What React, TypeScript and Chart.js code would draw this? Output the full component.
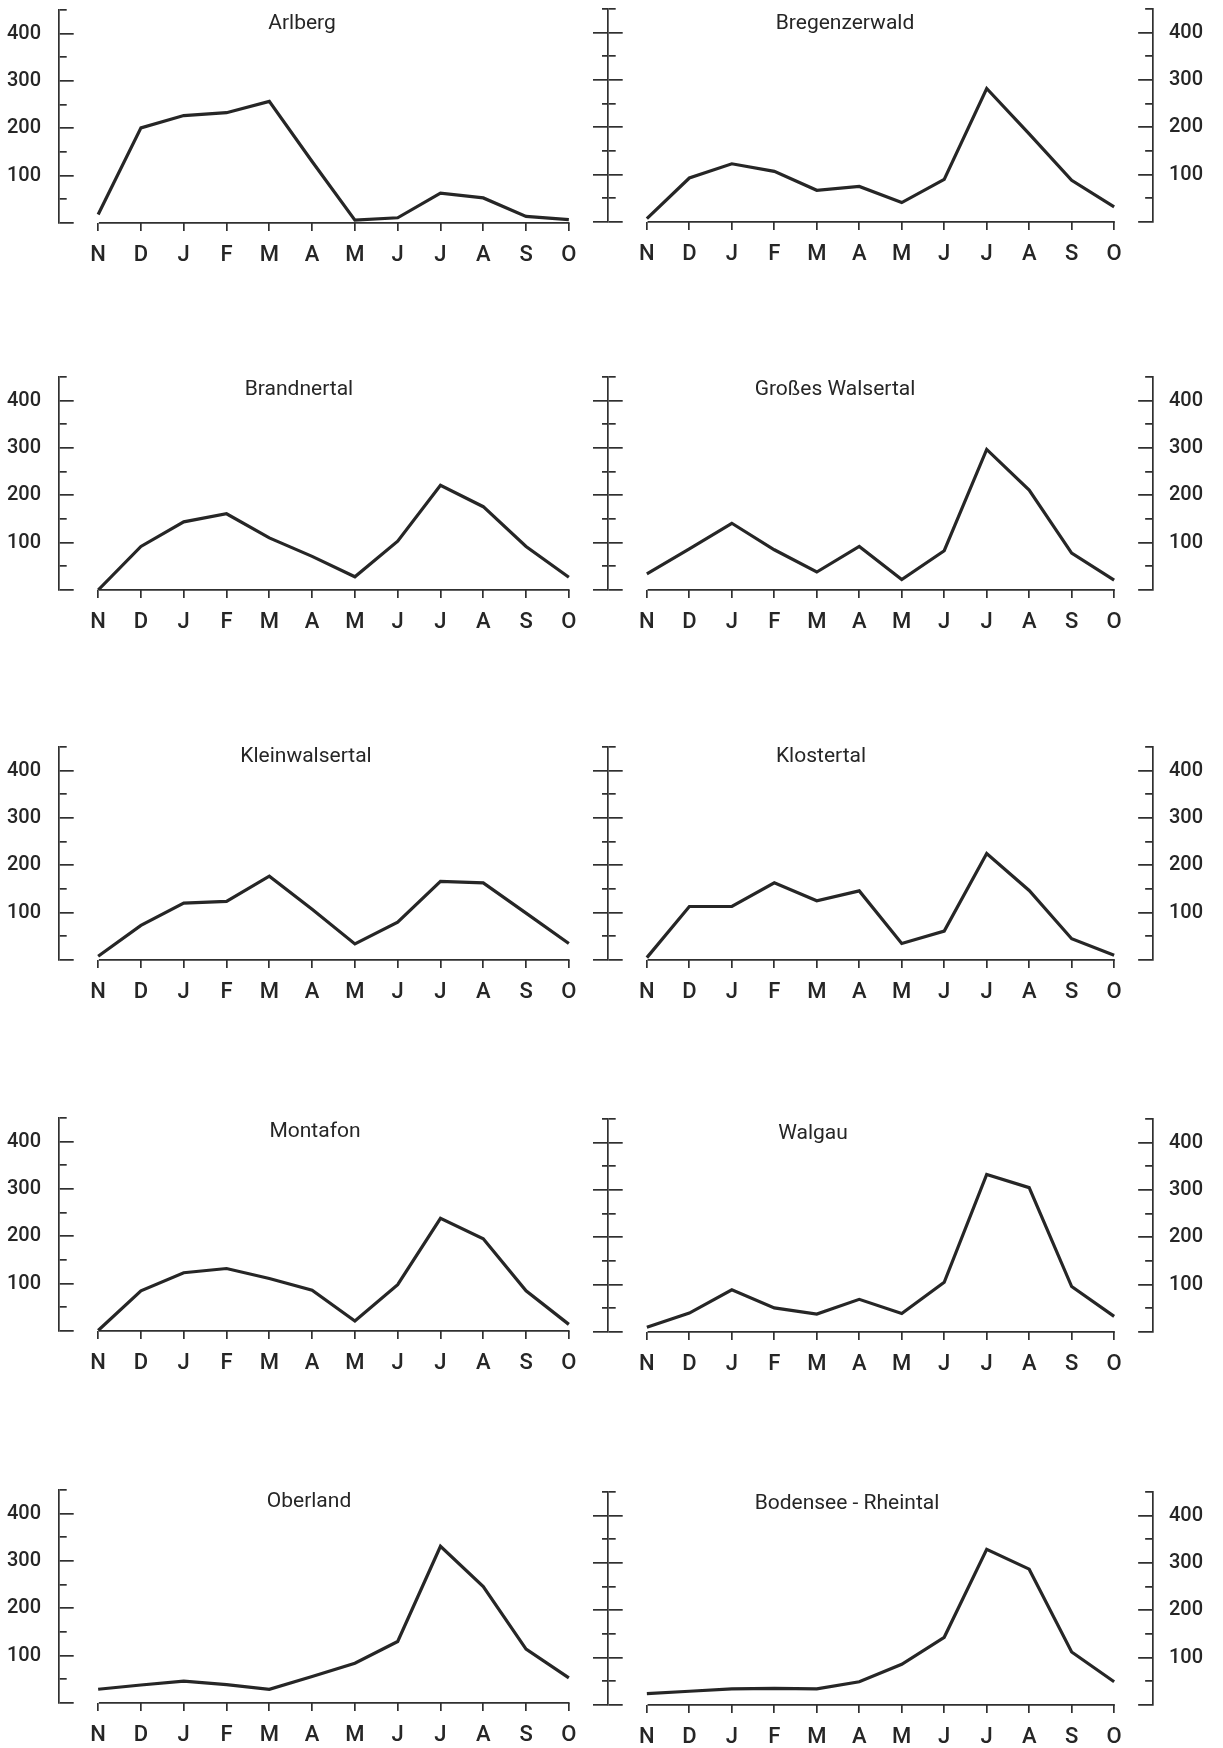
import React, { useEffect, useRef } from 'react';
import { Chart, registerables } from 'chart.js';

Chart.register(...registerables);

// ---------- data ----------
const MONTHS = ['N', 'D', 'J', 'F', 'M', 'A', 'M', 'J', 'J', 'A', 'S', 'O'];
const Y_LABELS = [100, 200, 300, 400];
const Y_TICKS = [0, 50, 100, 150, 200, 250, 300, 350, 400, 450];

const TITLES = [
  'Arlberg',
  'Bregenzerwald',
  'Brandnertal',
  'Großes Walsertal',
  'Kleinwalsertal',
  'Klostertal',
  'Montafon',
  'Walgau',
  'Oberland',
  'Bodensee - Rheintal',
];

const ARLBERG = [18, 201, 227, 233, 257, 130, 6, 11, 63, 53, 14, 7];
const BREGENZERWALD = [7, 93, 123, 107, 67, 75, 41, 90, 282, 186, 88, 32];
const BRANDNERTAL = [0, 92, 144, 161, 110, 71, 28, 103, 221, 176, 92, 27];
const GROSSES_WALSERTAL = [34, 87, 141, 85, 38, 92, 22, 83, 297, 211, 78, 21];
const KLEINWALSERTAL = [8, 73, 120, 124, 177, 107, 34, 80, 166, 163, 99, 35];
const KLOSTERTAL = [5, 113, 113, 163, 125, 146, 35, 61, 225, 147, 45, 10];
const MONTAFON = [1, 85, 123, 132, 111, 86, 21, 98, 238, 195, 85, 14];
const WALGAU = [10, 40, 89, 51, 38, 69, 39, 105, 333, 305, 96, 33];
const OBERLAND = [29, 38, 46, 39, 29, 56, 84, 130, 331, 246, 114, 53];
const BODENSEE_RHEINTAL = [24, 29, 34, 35, 34, 49, 86, 143, 329, 287, 112, 49];

const SERIES = [
  ARLBERG,
  BREGENZERWALD,
  BRANDNERTAL,
  GROSSES_WALSERTAL,
  KLEINWALSERTAL,
  KLOSTERTAL,
  MONTAFON,
  WALGAU,
  OBERLAND,
  BODENSEE_RHEINTAL,
];

// ---------- layout (page pixels) ----------
const BASELINES = [223, 222, 590, 590, 960, 960, 1331, 1332, 1703, 1705];
const TITLE_POS = [
  [302, 22], [845, 22],
  [299, 388], [835, 388],
  [306, 755], [821, 755],
  [315, 1130], [813, 1132],
  [309, 1500], [847, 1502],
];

const INK = '#262626';
const AXIS = '#303030';
const AW = 1.7;
const FONT = 'Roboto, "Open Sans", "DejaVu Sans", sans-serif';

const isMajor = (v: number) => v % 100 === 0;

const setYTicks = (s: any) => {
  s.ticks = Y_TICKS.map((v) => ({ value: v }));
};

// inward tick marks next to a left-hand axis (and the N..O baseline at value 0),
// drawn as dashed grid lines of the library's y scale
const innerDashLeft = (ctx: any) => {
  const t = ctx.tick;
  if (!t) return [];
  const len = isMajor(t.value) ? 14 : 7;
  if (t.value === 0) {
    const xs = ctx.chart.scales.x;
    const area = ctx.chart.chartArea;
    const p0 = xs.getPixelForValue(0) - area.left;
    const L = xs.getPixelForValue(MONTHS.length - 1) - xs.getPixelForValue(0);
    return [len, Math.max(p0 - len, 0), L, 10000];
  }
  return [len, 10000];
};

// inward tick marks next to a right-hand axis
const innerDashRight = (ctx: any) => {
  const t = ctx.tick;
  if (!t) return [];
  const len = isMajor(t.value) ? 14 : 7;
  const area = ctx.chart.chartArea;
  const W = area.right - area.left - AW / 2;
  return [0, Math.max(W - len, 0), len, 10000];
};

function buildConfig(values: number[], side: 'left' | 'right'): any {
  const xScale = {
    type: 'linear',
    axis: 'x',
    position: 'bottom',
    min: -0.915,
    max: 11.915,
    afterBuildTicks: (s: any) => {
      s.ticks = MONTHS.map((_, i) => ({ value: i }));
    },
    afterFit: (s: any) => {
      s.height = 50;
    },
    border: { display: false },
    grid: {
      drawOnChartArea: false,
      drawTicks: true,
      tickLength: 8,
      color: AXIS,
      lineWidth: AW,
    },
    ticks: {
      autoSkip: false,
      maxRotation: 0,
      minRotation: 0,
      padding: 11,
      color: INK,
      font: { family: FONT, size: 22, weight: '500' },
      callback: (_v: any, i: number) => MONTHS[i],
    },
  };

  const labelTicks = {
    autoSkip: false,
    padding: 0,
    color: INK,
    font: { family: FONT, size: 20, weight: '500' },
    callback: (v: any) => (Y_LABELS.includes(Number(v)) ? String(v) : ''),
  };

  let scales: any;
  if (side === 'left') {
    scales = {
      x: xScale,
      y: {
        type: 'linear',
        axis: 'y',
        position: 'left',
        min: 0,
        max: 450,
        afterBuildTicks: setYTicks,
        afterFit: (s: any) => {
          s.width = 59;
        },
        border: { display: true, color: AXIS, width: AW, dash: innerDashLeft },
        grid: {
          drawOnChartArea: true,
          drawTicks: true,
          tickLength: 18,
          tickColor: 'rgba(0,0,0,0)',
          color: AXIS,
          lineWidth: AW,
        },
        ticks: labelTicks,
      },
    };
  } else {
    scales = {
      x: xScale,
      yDiv: {
        type: 'linear',
        axis: 'y',
        position: 'left',
        min: 0,
        max: 450,
        afterBuildTicks: setYTicks,
        afterFit: (s: any) => {
          s.width = 48;
        },
        border: { display: true, color: AXIS, width: AW, dash: innerDashLeft },
        grid: {
          drawOnChartArea: true,
          drawTicks: true,
          tickLength: 15,
          color: AXIS,
          lineWidth: AW,
          tickBorderDash: (ctx: any) => (ctx.tick && !isMajor(ctx.tick.value) ? [0, 9, 20] : []),
        },
        ticks: { display: false },
      },
      y: {
        type: 'linear',
        axis: 'y',
        position: 'right',
        min: 0,
        max: 450,
        afterBuildTicks: setYTicks,
        afterFit: (s: any) => {
          s.width = 70;
        },
        border: { display: true, color: AXIS, width: AW, dash: innerDashRight },
        grid: {
          drawOnChartArea: true,
          drawTicks: true,
          tickLength: 16,
          tickColor: 'rgba(0,0,0,0)',
          color: AXIS,
          lineWidth: AW,
        },
        ticks: labelTicks,
      },
    };
  }

  return {
    type: 'line',
    data: {
      datasets: [
        {
          data: values.map((v, i) => ({ x: i, y: v })),
          borderColor: INK,
          backgroundColor: INK,
          borderWidth: 3.2,
          pointRadius: 0,
          pointHoverRadius: 0,
          tension: 0,
          fill: false,
          xAxisID: 'x',
          yAxisID: 'y',
        },
      ],
    },
    options: {
      animation: false,
      responsive: false,
      devicePixelRatio: 1,
      events: [],
      layout: {
        padding: side === 'left' ? { top: 17, right: 4, left: 0, bottom: 0 } : { top: 17, right: 0, left: 0, bottom: 0 },
      },
      plugins: {
        legend: { display: false },
        tooltip: { enabled: false },
        title: { display: false },
      },
      scales,
    },
  };
}

function MiniChart(props: { values: number[]; side: 'left' | 'right'; left: number; top: number; width: number; height: number }) {
  const ref = useRef<HTMLCanvasElement | null>(null);
  const { values, side, left, top, width, height } = props;
  useEffect(() => {
    if (!ref.current) return;
    const chart = new Chart(ref.current, buildConfig(values, side));
    return () => chart.destroy();
  }, [values, side]);
  return (
    <canvas
      ref={ref}
      width={width}
      height={height}
      style={{ position: 'absolute', left, top, width, height, display: 'block' }}
    />
  );
}

export default function App() {
  return (
    <div
      style={{
        position: 'absolute',
        left: 0,
        top: 0,
        width: 1223,
        height: 1748,
        overflow: 'hidden',
        background: '#ffffff',
      }}
    >
      {SERIES.map((values, i) => {
        const side = i % 2 === 0 ? 'left' : 'right';
        const base = BASELINES[i];
        return (
          <MiniChart
            key={'c' + i}
            values={values}
            side={side as 'left' | 'right'}
            left={side === 'left' ? 0 : 560}
            top={base - 230}
            width={side === 'left' ? 612 : 663}
            height={280}
          />
        );
      })}
      {TITLES.map((t, i) => (
        <div
          key={'t' + i}
          style={{
            position: 'absolute',
            left: TITLE_POS[i][0],
            top: TITLE_POS[i][1],
            transform: 'translate(-50%, -50%)',
            fontFamily: FONT,
            fontSize: 21,
            fontWeight: 400,
            color: INK,
            whiteSpace: 'nowrap',
            lineHeight: 1,
          }}
        >
          {t}
        </div>
      ))}
    </div>
  );
}
